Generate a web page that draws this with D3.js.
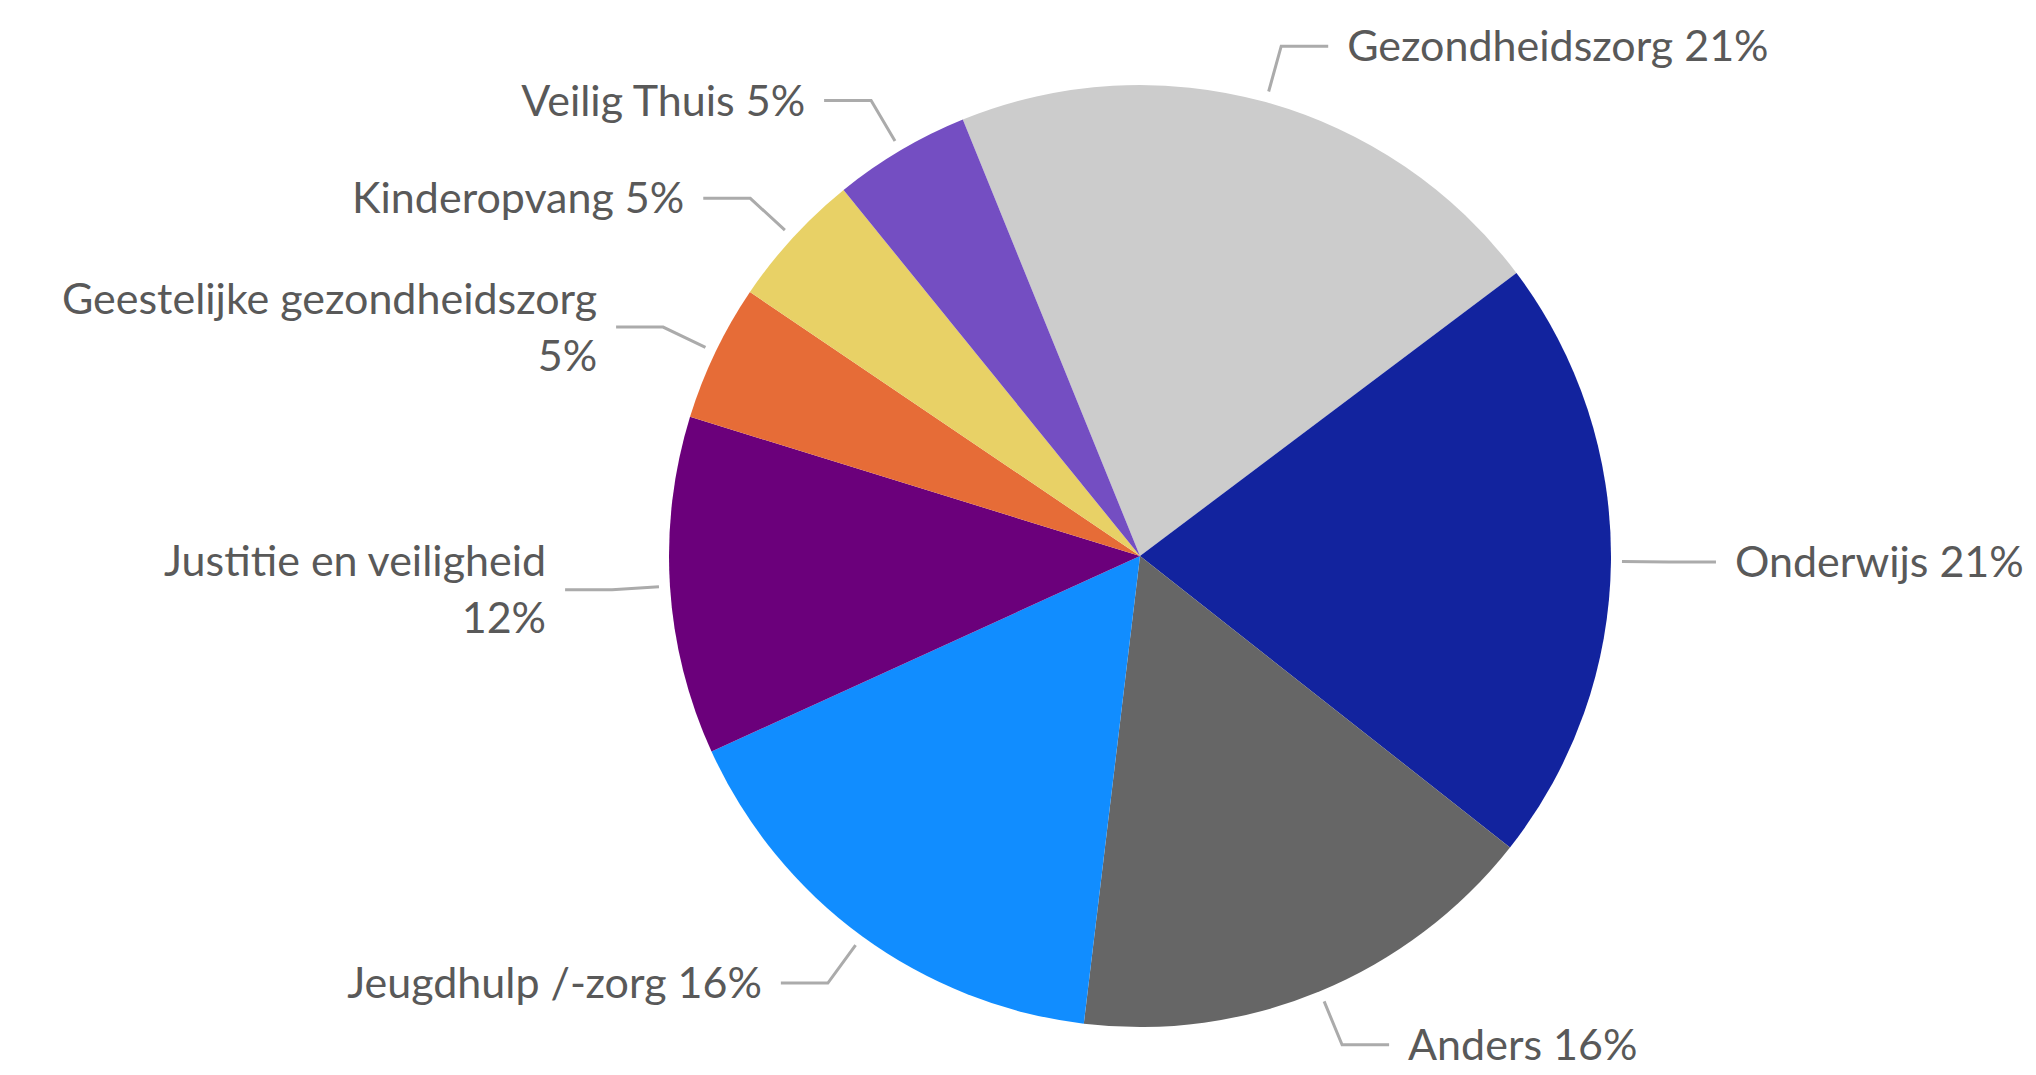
<!DOCTYPE html>
<html>
<head>
<meta charset="utf-8">
<script src="https://cdn.jsdelivr.net/npm/d3@7"></script>
<style>
  html, body { margin: 0; padding: 0; background: #ffffff; }
  svg { display: block; }
</style>
</head>
<body>
<svg id="chart" width="2036" height="1075"></svg>
<script>
// Sectors, listed clockwise from the first slice
const categories = [
  "Gezondheidszorg",
  "Onderwijs",
  "Anders",
  "Jeugdhulp /-zorg",
  "Justitie en veiligheid",
  "Geestelijke gezondheidszorg",
  "Kinderopvang",
  "Veilig Thuis"
];
// Share of each sector, in percent
const shares = [20.9, 20.9, 16.3, 16.3, 11.6, 4.7, 4.7, 4.7];
const colors = ["#CCCCCC", "#12239E", "#666666", "#118DFF", "#6B007B", "#E66C37", "#E8D166", "#744EC2"];

const width = 2036, height = 1075;
const cx = 1140, cy = 556, radius = 471;
const startDeg = -22.1;
const leaderStart = 482, leaderElbow = 529, leaderRun = 47, textGap = 19;
const maxLabelWidth = 450;
const lineHeight = 57;

const svg = d3.select("#chart");
svg.append("rect").attr("width", width).attr("height", height).attr("fill", "#ffffff");

const g = svg.append("g").attr("transform", `translate(${cx},${cy})`);

const data = categories.map((c, i) => ({ name: c, value: shares[i], color: colors[i] }));
const startA = startDeg * Math.PI / 180;
const pie = d3.pie().value(d => d.value).sort(null)
  .startAngle(startA).endAngle(startA + 2 * Math.PI);
const arcs = pie(data);

const arc = d3.arc().innerRadius(0).outerRadius(radius);

g.selectAll("path.slice")
  .data(arcs)
  .join("path")
  .attr("class", "slice")
  .attr("d", arc)
  .attr("fill", d => d.data.color);

const pct = d3.format(".0f");
const pt = (a, r) => [Math.sin(a) * r, -Math.cos(a) * r];

const labels = g.append("g").attr("class", "labels");

arcs.forEach(d => {
  const mid = (d.startAngle + d.endAngle) / 2;
  const right = Math.sin(mid) >= 0;
  const p0 = pt(mid, leaderStart);
  const p1 = pt(mid, leaderElbow);
  const p2 = [p1[0] + (right ? leaderRun : -leaderRun), p1[1]];

  labels.append("polyline")
    .attr("points", [p0, p1, p2].map(p => p.join(",")).join(" "))
    .attr("fill", "none")
    .attr("stroke", "#ABABAB")
    .attr("stroke-width", 3);

  const text = labels.append("text")
    .attr("x", p2[0] + (right ? textGap : -textGap))
    .attr("y", p2[1])
    .attr("text-anchor", right ? "start" : "end")
    .attr("font-family", "Lato, 'Open Sans', sans-serif")
    .attr("font-size", 43)
    .attr("fill", "#595959");

  const full = `${d.data.name} ${pct(d.data.value)}%`;
  const tspan = text.append("tspan").attr("x", text.attr("x")).attr("dy", "0.35em").text(full);
  if (tspan.node().getComputedTextLength() > maxLabelWidth) {
    // value moves to its own line; the block stays centred on the leader
    tspan.text(d.data.name).attr("dy", (0.35 * 43 - lineHeight / 2) + "px");
    text.append("tspan").attr("x", text.attr("x")).attr("dy", lineHeight + "px")
      .text(`${pct(d.data.value)}%`);
  }
});
</script>
</body>
</html>
